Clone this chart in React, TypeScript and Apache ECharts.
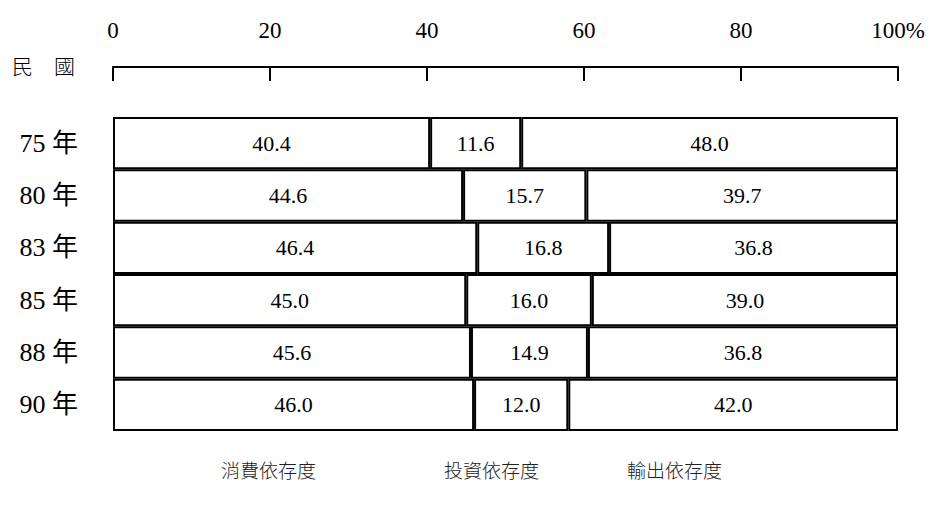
import React, { useEffect, useRef } from "react";
import * as echarts from "echarts";

const years = ["75 年", "80 年", "83 年", "85 年", "88 年", "90 年"];
const seriesNames = ["消費依存度", "投資依存度", "輸出依存度"];
const consumption = [40.4, 44.6, 46.4, 45.0, 45.6, 46.0];
const investment = [11.6, 15.7, 16.8, 16.0, 14.9, 12.0];
// drawn widths of the export segment (88年 bar reaches 100)
const exportWidths = [48.0, 39.7, 36.8, 39.0, 39.5, 42.0];
const exportLabels = ["48.0", "39.7", "36.8", "39.0", "36.8", "42.0"];
const xTicks = [0, 20, 40, 60, 80, 100];

const SERIF = "'Liberation Serif', 'Times New Roman', 'Noto Sans CJK TC', serif";
const CJK = "'Noto Sans CJK TC', 'Noto Sans', sans-serif";

export default function App() {
  const ref = useRef<HTMLDivElement>(null);
  useEffect(() => {
    if (!ref.current) return;
    const chart = echarts.init(ref.current, null, { renderer: "svg" });
    const barStyle = { color: "#ffffff", borderColor: "#000000", borderWidth: 2 };
    const labelBase = {
      show: true,
      position: "inside",
      color: "#000000",
      fontFamily: SERIF,
      fontSize: 22,
    };
    const legendLefts = [203, 426, 609];
    chart.setOption({
      animation: false,
      backgroundColor: "#ffffff",
      grid: { left: 105, top: 109, width: 785, height: 314, containLabel: false },
      legend: seriesNames.map((n, i) => ({
        data: [n],
        left: legendLefts[i],
        top: 447,
        icon: "none",
        itemWidth: 0,
        itemHeight: 0,
        selectedMode: false,
        textStyle: { fontFamily: CJK, fontSize: 19, color: "#222222", fontWeight: 300 },
      })),
      xAxis: {
        type: "value",
        position: "top",
        offset: 50,
        min: 0,
        max: 100,
        interval: 20,
        axisLine: { show: true, lineStyle: { color: "#000000", width: 2 } },
        axisTick: { show: true, inside: true, length: 14, lineStyle: { color: "#000000", width: 2 } },
        splitLine: { show: false },
        axisLabel: {
          margin: 25,
          fontFamily: SERIF,
          fontSize: 23,
          color: "#000000",
          formatter: (v: number) => (v === xTicks[xTicks.length - 1] ? `${v}%` : `${v}`),
        },
      },
      yAxis: {
        type: "category",
        inverse: true,
        data: years,
        axisLine: { show: false },
        axisTick: { show: false },
        axisLabel: { margin: 35, fontFamily: SERIF, fontSize: 26, color: "#000000" },
      },
      graphic: [
        {
          type: "text",
          left: 4,
          top: 46,
          style: { text: "民　國", fontFamily: CJK, fontSize: 21, fill: "#000000", fontWeight: 300 },
        },
      ],
      series: [
        {
          name: seriesNames[0],
          type: "bar",
          stack: "total",
          barCategoryGap: "0%",
          data: consumption,
          itemStyle: barStyle,
          label: { ...labelBase, formatter: (p: any) => Number(p.value).toFixed(1) },
        },
        {
          name: seriesNames[1],
          type: "bar",
          stack: "total",
          barCategoryGap: "0%",
          data: investment,
          itemStyle: barStyle,
          label: { ...labelBase, formatter: (p: any) => Number(p.value).toFixed(1) },
        },
        {
          name: seriesNames[2],
          type: "bar",
          stack: "total",
          barCategoryGap: "0%",
          data: exportWidths,
          itemStyle: barStyle,
          label: { ...labelBase, formatter: (p: any) => exportLabels[p.dataIndex] },
        },
      ],
    });
    return () => chart.dispose();
  }, []);
  return <div ref={ref} style={{ width: 925, height: 497 }} />;
}
